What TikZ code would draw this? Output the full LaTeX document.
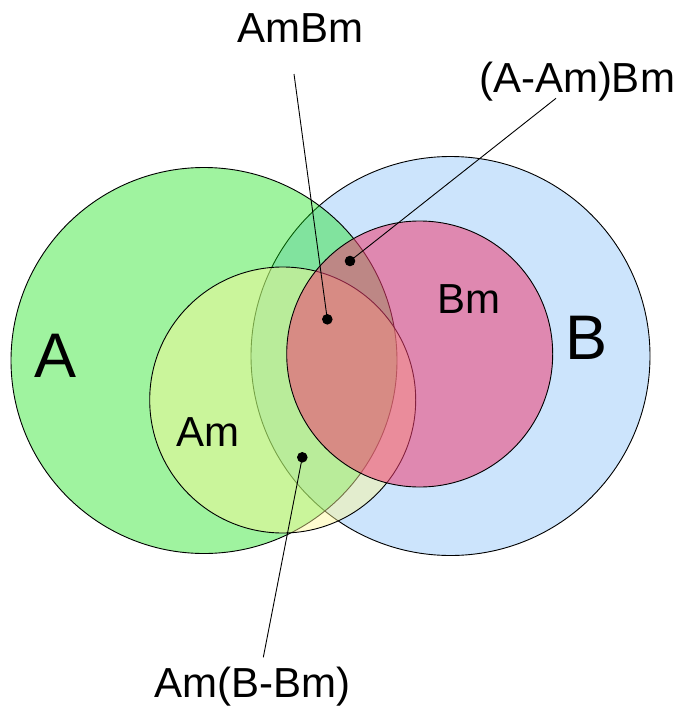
\documentclass[tikz,border=0pt]{standalone}
\usepackage{fontspec}
\setmainfont{Liberation Sans}
\definecolor{cA}{RGB}{17,227,17}
\definecolor{cB}{RGB}{204,228,252}
\definecolor{cAm}{RGB}{255,249,151}
\definecolor{cBm}{RGB}{240,61,114}
\begin{document}
\begin{tikzpicture}[x=1pt,y=-1pt,
  setline/.style={draw=black,line width=0.9pt},
  lbl/.style={font=\fontsize{42}{50}\selectfont, inner sep=0pt, anchor=base},
  biglbl/.style={font=\fontsize{63}{75}\selectfont, inner sep=0pt, anchor=base},
  dotn/.style={circle,fill=black,inner sep=0pt,minimum size=10.6pt},
  conn/.style={draw=black,line width=0.9pt}]
\useasboundingbox (0,0) rectangle (678,709);
\fill[white] (0,0) rectangle (678,709);
% sets
\draw[setline, fill=cB] (450.5,356) circle[radius=199.5pt];
\draw[setline, fill=cA, fill opacity=0.4] (204,360.5) circle[radius=193pt];
\draw[setline, fill=cAm, fill opacity=0.45] (282.7,400) circle[radius=133pt];
\draw[setline, fill=cBm, fill opacity=0.55] (419.7,354) circle[radius=133pt];
% labels
\node[biglbl] (lA) at (55.5,377.7) {A};
\node[biglbl, anchor=base west] (lB) at (565.4,359) {B};
\node[lbl] (lAm) at (208,446) {Am};
\node[lbl] (lBm) at (469,313.3) {Bm};
\node[lbl] (lAmBm) at (300.7,42.3) {AmBm};
\node[lbl] (lAAmBm) at (577,92.3) {(A-Am)Bm};
\node[lbl] (lAmBBm) at (252,697.3) {Am(B-Bm)};
% dots and connectors
\node[dotn] (d1) at (327.3,319.3) {};
\node[dotn] (d2) at (350,261) {};
\node[dotn] (d3) at (302.3,457.3) {};
\coordinate (e1) at (294,74);
\coordinate (e2) at (556,98.3);
\coordinate (e3) at (263.3,657.3);
\draw[conn] (e1) -- (d1.center);
\draw[conn] (e2) -- (d2.center);
\draw[conn] (e3) -- (d3.center);
\end{tikzpicture}
\end{document}
